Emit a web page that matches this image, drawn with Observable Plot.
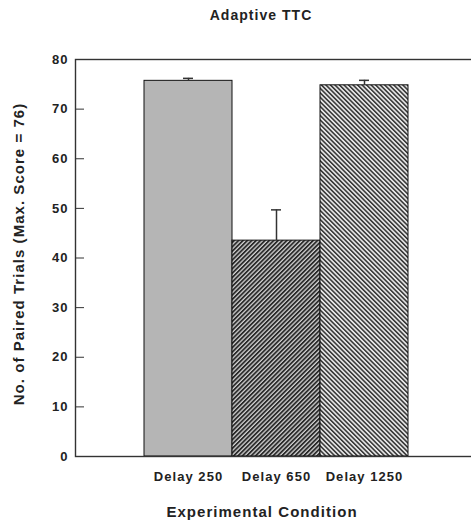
<!DOCTYPE html>
<html>
<head>
<meta charset="utf-8">
<script src="https://cdn.jsdelivr.net/npm/d3@7"></script>
<script src="https://cdn.jsdelivr.net/npm/@observablehq/plot@0.6"></script>
<style>
  html, body { margin: 0; padding: 0; background: #fff; overflow: hidden; }
</style>
</head>
<body>
<div id="chart"></div>
<script>
// ---- data ----
const conditions = ["Delay 250", "Delay 650", "Delay 1250"];
const means = [75.7, 43.5, 74.8];
const errors = [0.5, 6.2, 1.0];
const yTicks = [0, 10, 20, 30, 40, 50, 60, 70, 80];
const titleText = "Adaptive TTC";
const yLabelText = "No. of Paired Trials (Max. Score = 76)";
const xLabelText = "Experimental Condition";

// ---- styles ----
const fills = ["#b5b5b5", "url(#hatchA)", "url(#hatchB)"];
const ink = "#222";

const rows = conditions.map((c, i) => ({cond: c, mean: means[i], err: errors[i], top: means[i] + errors[i]}));

function defsMark() {
  const defs = d3.create("svg:defs");
  const mk = (id, angle, bg, fg, w, lw) => {
    const p = defs.append("pattern")
      .attr("id", id).attr("patternUnits", "userSpaceOnUse")
      .attr("width", w).attr("height", 10)
      .attr("patternTransform", `rotate(${angle})`);
    p.append("rect").attr("width", w).attr("height", 10).attr("fill", bg);
    p.append("rect").attr("width", lw).attr("height", 10).attr("fill", fg);
  };
  mk("hatchA", 45, "#d0d0d0", "#2a2a2a", 3.1, 1.8);
  mk("hatchB", -45, "#e4e4e4", "#333", 3.2, 1.5);
  return defs.node();
}

const font = "'Liberation Sans', Arial, Helvetica, sans-serif";

const plot = Plot.plot({
  width: 471,
  height: 523,
  marginTop: 59,
  marginBottom: 67,
  marginLeft: 75,
  marginRight: 0,
  style: {fontFamily: font, fontWeight: "bold", fontSize: "13px", color: ink, background: "#fff", letterSpacing: "0.08em", overflow: "hidden"},
  x: {domain: conditions, padding: 0, insetLeft: 68, insetRight: 63, axis: null},
  y: {domain: [0, 80], axis: null},
  marks: [
    defsMark,
    ...conditions.map((c, i) => Plot.barY(rows.filter(d => d.cond === c), {
      x: "cond", y: "mean", fill: fills[i], stroke: "#111", strokeWidth: 1
    })),
    Plot.ruleX(rows, {x: "cond", y1: "mean", y2: "top", stroke: "#333", strokeWidth: 1.5}),
    Plot.tickY(rows, {x: "cond", y: "top", stroke: "#333", strokeWidth: 1.5, insetLeft: 39, insetRight: 39}),
    Plot.frame({stroke: "#333", strokeWidth: 1.4, insetRight: -10}),
    Plot.axisY(yTicks, {anchor: "left", tickSize: -9, tickPadding: 16, label: null, fontSize: 13, stroke: "#333"}),
    Plot.axisX(conditions, {anchor: "bottom", tickSize: 0, tickPadding: 15, label: null, fontSize: 13}),
    Plot.text([titleText], {text: d => d, frameAnchor: "top", dx: -12.5, dy: -43.5, fontSize: 14, textAnchor: "middle", lineAnchor: "middle", fill: ink}),
    Plot.text([xLabelText], {text: d => d, frameAnchor: "bottom", dx: -11.5, dy: 56, fontSize: 15, textAnchor: "middle", lineAnchor: "middle", fill: ink}),
    Plot.text([yLabelText], {text: d => d, frameAnchor: "left", dx: -56.5, dy: -4, rotate: -90, fontSize: 15, textAnchor: "middle", lineAnchor: "middle", fill: ink})
  ]
});
document.getElementById("chart").append(plot);
</script>
</body>
</html>
